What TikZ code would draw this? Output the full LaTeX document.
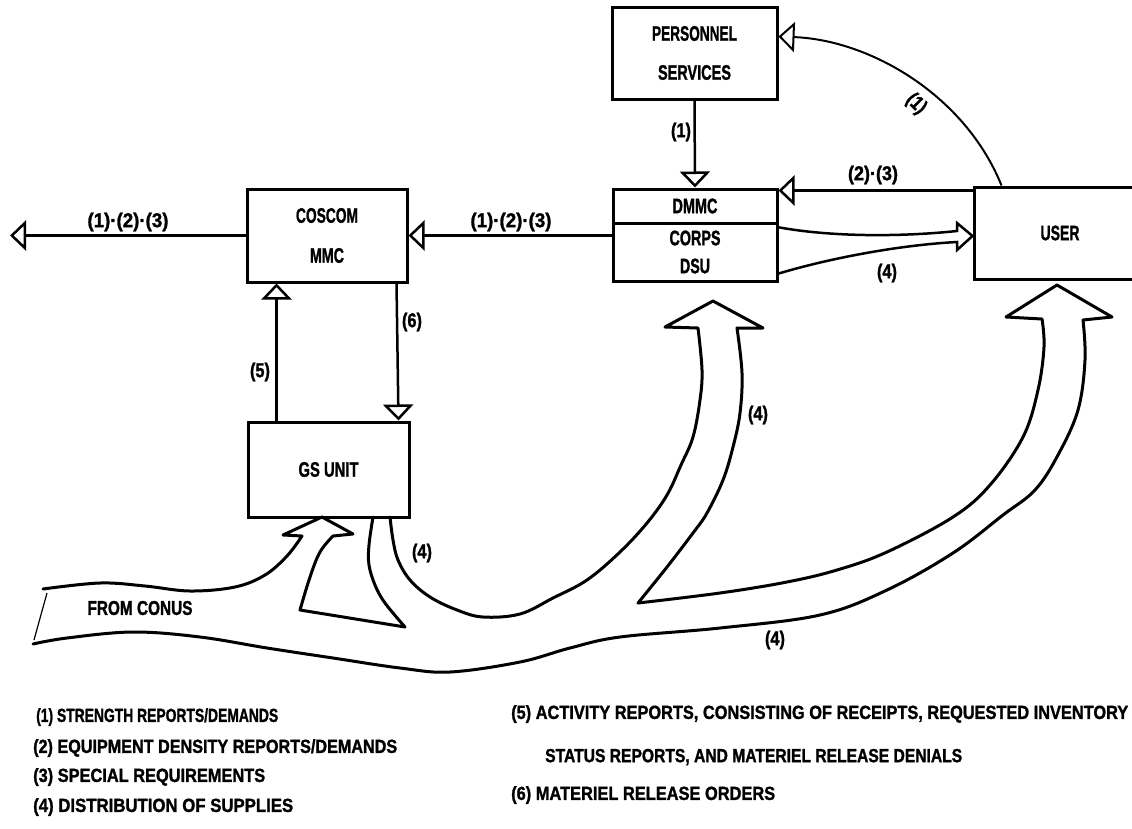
\documentclass[tikz,border=0pt]{standalone}
\usepackage{fontspec}
\setmainfont{Liberation Sans}[BoldFeatures={FakeBold=1.5}]
\usepackage{graphicx}
\usetikzlibrary{arrows.meta,calc}
\newcommand\tx[2]{\resizebox{#1pt}{\height}{#2}}
\begin{document}
\begin{tikzpicture}[x=1pt,y=-1pt,
  >={Triangle[open,length=16pt,width=30pt]},
  box/.style={draw,line width=3pt,inner sep=0pt,align=center,font=\bfseries\fontsize{21}{40}\selectfont},
  lbl/.style={inner sep=0pt,font=\bfseries\fontsize{20}{22}\selectfont},
  leg/.style={inner sep=0pt,anchor=west,font=\bfseries\fontsize{19}{22}\selectfont},
  conn/.style={line width=2.5pt},
  band/.style={line width=3pt,line join=round,line cap=round}]
\useasboundingbox (0,0) rectangle (1132,828);

% boxes
\node[box,minimum width=160pt,minimum height=93pt] (coscom) at (327,235.5) {\tx{62}{COSCOM}\\\tx{34}{MMC}};
\node[box,minimum width=165pt,minimum height=92pt,font=\bfseries\fontsize{21}{39}\selectfont] (pers) at (694.5,53) {\tx{85}{PERSONNEL}\\\tx{73}{SERVICES}};
\node[box,minimum width=164pt,minimum height=34pt] (dmmc) at (695,206) {\tx{45}{DMMC}};
\node[box,minimum width=164pt,minimum height=58pt,font=\bfseries\fontsize{21}{28}\selectfont] (dsu) at (695,252) {\tx{51}{CORPS}\\\tx{30}{DSU}};
\node[box,minimum width=172pt,minimum height=92pt] (user) at (1060,233) {\tx{39}{USER}};
\node[box,minimum width=161pt,minimum height=95pt] (gs) at (328.5,469.5) {\tx{60}{GS UNIT}};

% connectors
\coordinate (farL) at (10,235.5);
\draw[conn,->] (coscom.west) -- (farL);
\node[lbl] (l123a) at (128,222) {\tx{81}{(1)·(2)·(3)}};

\draw[conn,->] (coscom.east -| dsu.west) -- (coscom.east);
\node[lbl] (l123b) at (511,222) {\tx{81}{(1)·(2)·(3)}};

\draw[conn,->] (pers.south) -- (dmmc.north);
\node[lbl] (l1a) at (681,132) {\tx{20}{(1)}};

\coordinate (u23) at ($(user.north west)+(0,5)$);
\draw[conn,->] (u23) -- (u23 -| dmmc.east);
\node[lbl] (l23) at (873,175) {\tx{50}{(2)·(3)}};

\coordinate (uc) at ($(user.north west)+(29,0)$);
\coordinate (pe) at ($(pers.north east)+(0,31)$);
\draw[line width=2pt,->] (uc) .. controls (965,95) and (870,40) .. (pe);
\node[lbl,rotate=-45] (l1b) at (916,104) {\tx{20}{(1)}};

\coordinate (ut) at (user.west |- 0,236);
\draw[line width=2.5pt,line join=miter] (777,227) .. controls (830,237) and (900,237) .. (957,231) -- (957,223) -- (ut) -- (957,250) -- (957,242) .. controls (900,245) and (830,258) .. (777,274);
\node[lbl] (l4a) at (887,273) {\tx{20}{(4)}};

\draw[conn,->] ($(gs.north west)+(30,0)$) -- ($(coscom.south west)+(31,0)$);
\node[lbl] (l5) at (260,372) {\tx{20}{(5)}};
\draw[conn,->] ($(coscom.south east)+(-12,0)$) -- ($(gs.north east)+(-12,0)$);
\node[lbl] (l6) at (412,322) {\tx{20}{(6)}};

% supply stream
\draw[band] plot[smooth,tension=0.6] coordinates {(43,589) (100,583) (145,586) (190,591) (235,587) (265,575) (287,556) (302,536)}
  -- (283,535) -- (322,517) -- (353,534) -- (333,536)
  -- plot[smooth,tension=0.6] coordinates {(333,536) (320,552) (310,577) (300,610)}
  -- (405,627)
  -- plot[smooth,tension=0.6] coordinates {(405,627) (385,603) (375,585) (369,565) (369,545) (373,517)};

\draw[band] plot[smooth,tension=0.6] coordinates {(390,517) (393,540) (398,560) (410,580) (430,597) (457,610) (483,617) (520,614) (553,598) (587,580) (620,552) (647,523) (667,495) (681,465) (693,437) (700,400) (702,370) (698,328)}
  -- (665,327) -- (713,301) -- (763,328) -- (737,328)
  -- plot[smooth,tension=0.6] coordinates {(737,328) (742,373) (740,413) (733,447) (723,480) (707,513) (693,533) (667,567) (638,603)}
  -- plot[smooth,tension=0.6] coordinates {(638,603) (720,593) (787,582) (837,570) (887,552) (953,517) (990,485) (1023,437) (1038,390) (1044,347) (1042,319)}
  -- (1006,317) -- (1057,285) -- (1112,317) -- (1083,320)
  -- plot[smooth,tension=0.6] coordinates {(1083,320) (1085,360) (1078,410) (1058,455) (1035,490) (1003,515) (953,553) (887,590) (820,615) (720,628) (620,637) (570,648) (520,662) (450,672) (400,668) (333,658) (267,648) (200,637) (133,632) (67,638) (33,644)};

\draw[line width=1.2pt] (47,593) -- (34,640);

\node[lbl] (l4b) at (758,415) {\tx{20}{(4)}};
\node[lbl] (l4c) at (775,640) {\tx{20}{(4)}};
\node[lbl] (l4d) at (422,553) {\tx{20}{(4)}};
\node[lbl] (conus) at (140,608) {\tx{105}{FROM CONUS}};

% legend
\node[leg] (g1) at (36,717) {\tx{242}{(1) STRENGTH REPORTS/DEMANDS}};
\node[leg] (g2) at (33,748) {\tx{364}{(2) EQUIPMENT DENSITY REPORTS/DEMANDS}};
\node[leg] (g3) at (33,777) {\tx{232}{(3) SPECIAL REQUIREMENTS}};
\node[leg] (g4) at (33,807) {\tx{260}{(4) DISTRIBUTION OF SUPPLIES}};
\node[leg] (g5) at (511,714) {\tx{617}{(5) ACTIVITY REPORTS, CONSISTING OF RECEIPTS, REQUESTED INVENTORY}};
\node[leg] (g6) at (545,757) {\tx{417}{STATUS REPORTS, AND MATERIEL RELEASE DENIALS}};
\node[leg] (g7) at (511,795) {\tx{264}{(6) MATERIEL RELEASE ORDERS}};
\end{tikzpicture}
\end{document}
